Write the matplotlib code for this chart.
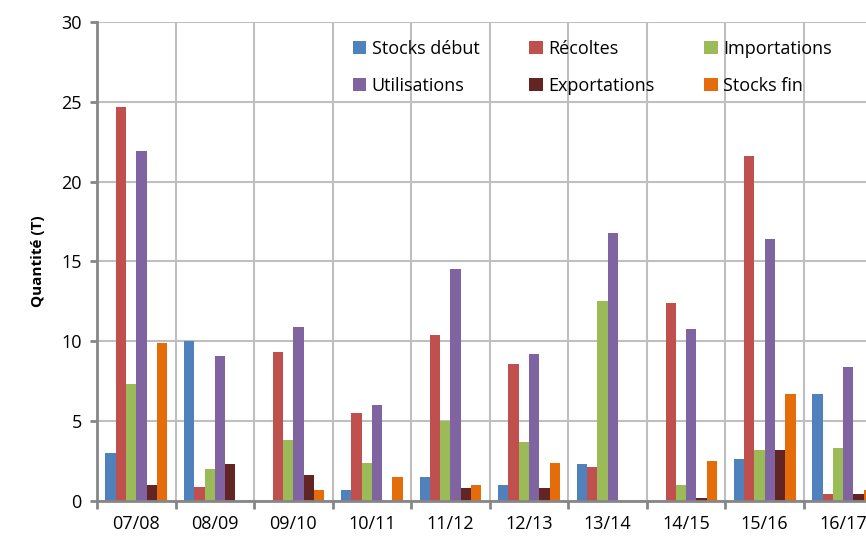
import matplotlib
matplotlib.use("Agg")
import matplotlib.pyplot as plt
import numpy as np

# campagnes
campagnes = ["07/08", "08/09", "09/10", "10/11", "11/12", "12/13", "13/14", "14/15", "15/16", "16/17"]

stocks_debut = [3.0, 10.0, 0, 0.7, 1.5, 1.0, 2.3, 0, 2.6, 6.7]
recoltes = [24.7, 0.9, 9.3, 5.5, 10.4, 8.6, 2.1, 12.4, 21.6, 0.4]
importations = [7.3, 2.0, 3.8, 2.4, 5.0, 3.7, 12.5, 1.0, 3.2, 3.3]
utilisations = [21.9, 9.1, 10.9, 6.0, 14.5, 9.2, 16.8, 10.8, 16.4, 8.4]
exportations = [1.0, 2.3, 1.6, 0, 0.8, 0.8, 0, 0.2, 3.2, 0.4]
stocks_fin = [9.9, 0, 0.7, 1.5, 1.0, 2.4, 0, 2.5, 6.7, 0.7]

series = [
    ("Stocks début", stocks_debut, "#4F81BD"),
    ("Récoltes", recoltes, "#C0504D"),
    ("Importations", importations, "#9BBB59"),
    ("Utilisations", utilisations, "#8064A2"),
    ("Exportations", exportations, "#632523"),
    ("Stocks fin", stocks_fin, "#E46C0A"),
]

plt.rcParams["font.family"] = ["Open Sans", "DejaVu Sans"]

fig = plt.figure(figsize=(8.66, 5.38), dpi=100)
# l'axe depasse a droite, comme sur l'original (16/17 coupe)
ax = fig.add_axes([0.112, 0.069, 0.907, 0.890])

x = np.arange(len(campagnes))
w = 0.131
barres = []
for i, (nom, vals, col) in enumerate(series):
    b = ax.bar(x + (i - 2.5) * w, vals, w, color=col, label=nom, zorder=3)
    barres.append(b)

ax.set_xlim(-0.5, len(campagnes) - 0.5)
ax.set_ylim(0, 30)
ax.set_yticks(range(0, 31, 5))
ax.set_xticks(x)
ax.set_xticklabels(campagnes, fontsize=13)
ax.set_xticks(np.arange(-0.5, len(campagnes), 1), minor=True)
ax.tick_params(axis="x", which="major", length=0, pad=10)
ax.tick_params(axis="x", which="minor", length=6, width=2, color="#868686")
ax.tick_params(axis="y", length=5, width=2, color="#868686", labelsize=13, pad=6)

ax.grid(True, axis="y", color="#BFBFBF", linewidth=1.5, zorder=0)
ax.grid(True, axis="x", which="minor", color="#BFBFBF", linewidth=1.5, zorder=0)
for s in ["top", "right"]:
    ax.spines[s].set_visible(False)
for s in ["left", "bottom"]:
    ax.spines[s].set_color("#868686")
    ax.spines[s].set_linewidth(2)
    ax.spines[s].set_zorder(4)

ax.set_ylabel("Quantité (T)", fontsize=11, fontweight="bold", labelpad=12)

# legende remplie ligne par ligne (matplotlib remplit par colonne)
ordre = [0, 3, 1, 4, 2, 5]
ax.legend([barres[k] for k in ordre], [series[k][0] for k in ordre],
          ncol=3, loc="upper left", bbox_to_anchor=(0.305, 0.997), frameon=False,
          fontsize=13, handlelength=0.75, handleheight=0.75, handletextpad=0.3,
          columnspacing=2.75, labelspacing=1.05)

plt.savefig("out.png", dpi=100)
